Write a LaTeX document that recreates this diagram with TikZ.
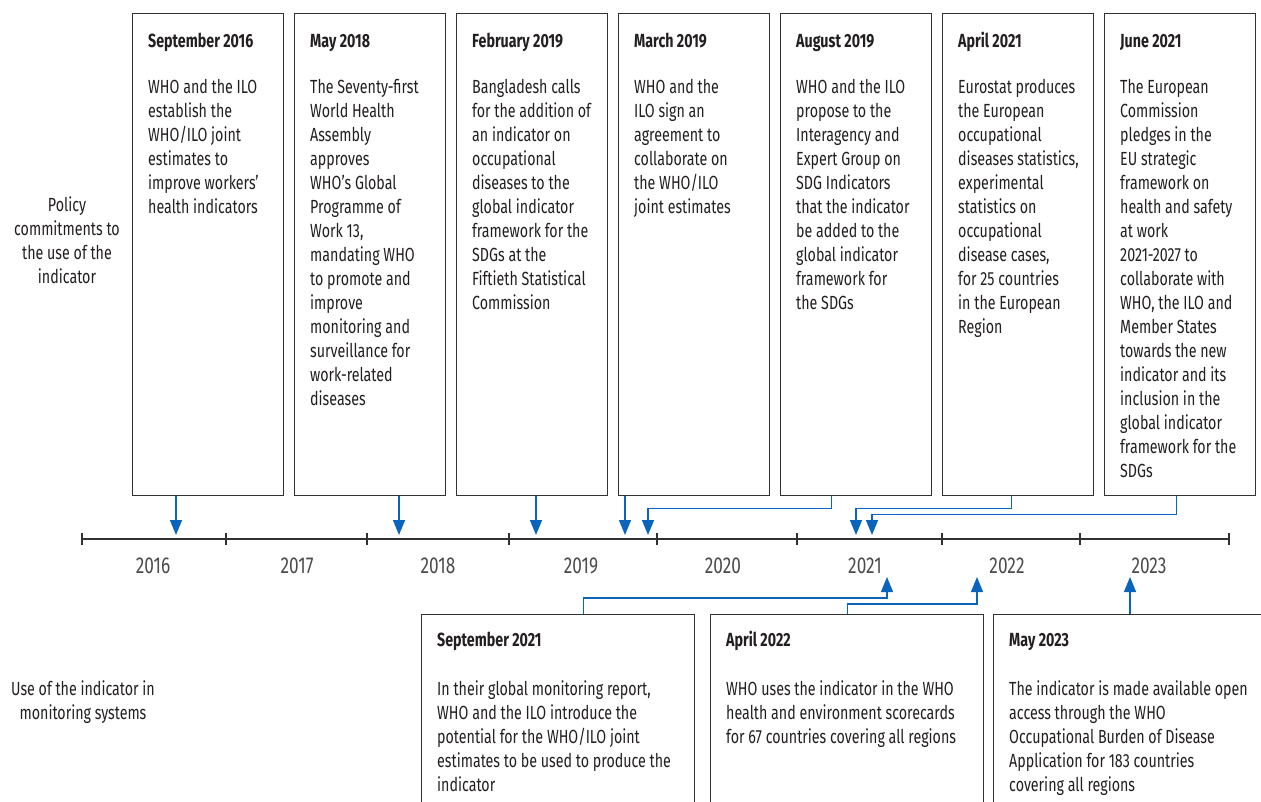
\documentclass[tikz,border=0pt]{standalone}
\usepackage{fontspec}
\setmainfont{Fira Sans}[FakeStretch=0.75]
\usetikzlibrary{arrows.meta, positioning}
\definecolor{linkblue}{RGB}{10,100,190}
\definecolor{framegray}{RGB}{50,50,50}
\definecolor{inkgray}{RGB}{35,31,32}
\definecolor{yeargray}{RGB}{75,75,75}

\begin{document}
\begin{tikzpicture}[x=1pt, y=-1pt, font=\fontsize{19}{24}\selectfont, text=inkgray]
		\tikzstyle{Event} = [rectangle, draw=framegray, line width=1.4pt, anchor=north west, minimum width=151pt, minimum height=482pt, inner sep=0pt]
		\tikzstyle{UseBox} = [Event, minimum width=273pt, minimum height=230pt]
		\tikzstyle{Txt} = [align=left, inner sep=0pt]
		\tikzstyle{Year} = [text=yeargray, font=\fontsize{23}{24}\selectfont]
		\tikzstyle{axis} = [draw=framegray, line width=1.3pt]
		\tikzstyle{link} = [draw=linkblue, line width=1.3pt, -{Triangle[width=12pt,length=15pt]}, color=linkblue]
		\useasboundingbox (0,0) rectangle (1261,801);
		
		% row labels
		\node (policy) [align=center] at (67,240) {Policy\\commitments to\\the use of the\\indicator};
		\node (usage) [align=center] at (83,702) {Use of the indicator in\\monitoring systems};
		
		% policy commitments
		\node (sep16) [Event] at (132,13) {};
		\node (may18) [Event] at (294,13) {};
		\node (feb19) [Event] at (456,13) {};
		\node (mar19) [Event] at (618,13) {};
		\node (aug19) [Event] at (780,13) {};
		\node (apr21) [Event] at (942,13) {};
		\node (jun21) [Event] at (1104,13) {};
		
		\node (sep16txt) [Txt, below right=17pt and 16pt of sep16.north west] {\strut\textbf{September 2016}\\[22pt]WHO and the ILO\\establish the\\WHO/ILO joint\\estimates to\\improve workers’\\health indicators};
		\node (may18txt) [Txt, below right=17pt and 16pt of may18.north west] {\strut\textbf{May 2018}\\[22pt]The Seventy-first\\World Health\\Assembly\\approves\\WHO’s Global\\Programme of\\Work 13,\\mandating WHO\\to promote and\\improve\\monitoring and\\surveillance for\\work-related\\diseases};
		\node (feb19txt) [Txt, below right=17pt and 16pt of feb19.north west] {\strut\textbf{February 2019}\\[22pt]Bangladesh calls\\for the addition of\\an indicator on\\occupational\\diseases to the\\global indicator\\framework for the\\SDGs at the\\Fiftieth Statistical\\Commission};
		\node (mar19txt) [Txt, below right=17pt and 16pt of mar19.north west] {\strut\textbf{March 2019}\\[22pt]WHO and the\\ILO sign an\\agreement to\\collaborate on\\the WHO/ILO\\joint estimates};
		\node (aug19txt) [Txt, below right=17pt and 16pt of aug19.north west] {\strut\textbf{August 2019}\\[22pt]WHO and the ILO\\propose to the\\Interagency and\\Expert Group on\\SDG Indicators\\that the indicator\\be added to the\\global indicator\\framework for\\the SDGs};
		\node (apr21txt) [Txt, below right=17pt and 16pt of apr21.north west] {\strut\textbf{April 2021}\\[22pt]Eurostat produces\\the European\\occupational\\diseases statistics,\\experimental\\statistics on\\occupational\\disease cases,\\for 25 countries\\in the European\\Region};
		\node (jun21txt) [Txt, below right=17pt and 16pt of jun21.north west] {\strut\textbf{June 2021}\\[22pt]The European\\Commission\\pledges in the\\EU strategic\\framework on\\health and safety\\at work\\2021-2027 to\\collaborate with\\WHO, the ILO and\\Member States\\towards the new\\indicator and its\\inclusion in the\\global indicator\\framework for the\\SDGs};
		
		% timeline
		\coordinate (tlstart) at (82,539);
		\coordinate (tlend) at (1229,539);
		\draw[axis] (tlstart) -- (tlend);
		\foreach \x in {82,226,367,509,657,797,942,1080,1229}
			\draw[axis] (\x,533) -- (\x,545);
		\foreach \yr/\x in {2016/153,2017/297,2018/438,2019/581,2020/723,2021/865,2022/1007,2023/1149}
			\node (y\yr) [Year] at (\x,566) {\yr};
		
		% use in monitoring
		\node (sep21) [UseBox] at (421,614) {};
		\node (apr22) [UseBox] at (710,614) {};
		\node (may23) [UseBox] at (993,614) {};
		
		\node (sep21txt) [Txt, below right=15pt and 16pt of sep21.north west] {\strut\textbf{September 2021}\\[25pt]In their global monitoring report,\\WHO and the ILO introduce the\\potential for the WHO/ILO joint\\estimates to be used to produce the\\indicator};
		\node (apr22txt) [Txt, below right=15pt and 16pt of apr22.north west] {\strut\textbf{April 2022}\\[25pt]WHO uses the indicator in the WHO\\health and environment scorecards\\for 67 countries covering all regions};
		\node (may23txt) [Txt, below right=15pt and 16pt of may23.north west] {\strut\textbf{May 2023}\\[25pt]The indicator is made available open\\access through the WHO\\Occupational Burden of Disease\\Application for 183 countries\\covering all regions};
		
		% arrows to the timeline
		\coordinate (m1) at (176,535);
		\coordinate (m2) at (399,535);
		\coordinate (m3) at (536,535);
		\coordinate (m4) at (625,535);
		\coordinate (m5) at (648,535);
		\coordinate (m6) at (856,535);
		\coordinate (m7) at (872,535);
		\draw[link] (m1 |- sep16.south) -- (m1);
		\draw[link] (m2 |- may18.south) -- (m2);
		\draw[link] (m3 |- feb19.south) -- (m3);
		\draw[link] (m4 |- mar19.south) -- (m4);
		\draw[link] ([xshift=-25pt]aug19.south) -- ++(0,12) -| (m5);
		\draw[link] ([xshift=-7pt]apr21.south) -- ++(0,12) -| (m6);
		\draw[link] ([xshift=-4pt]jun21.south) -- ++(0,18) -| (m7);
		
		\coordinate (u1) at (887,577);
		\coordinate (u2) at (977,577);
		\coordinate (u3) at (1130,577);
		\draw[link] ([xshift=25pt]sep21.north) -- ++(0,-16) -| (u1);
		\draw[link] (apr22.north) -- ++(0,-10) -| (u2);
		\draw[link] (u3 |- may23.north) -- (u3);
		
		\end{tikzpicture}
\end{document}
